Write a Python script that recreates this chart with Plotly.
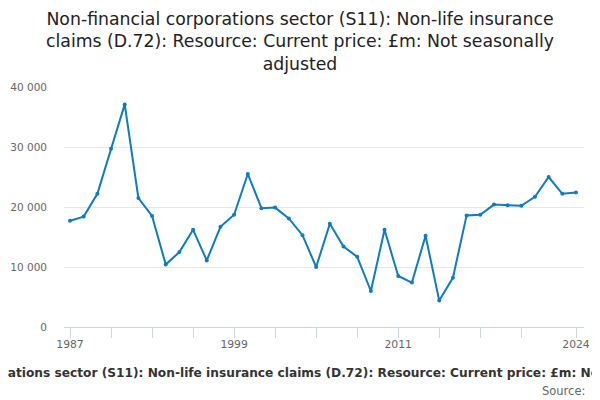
import plotly.graph_objects as go

years = list(range(1987, 2025))
values = [17700, 18400, 22200, 29700, 37100, 21500, 18500, 10400, 12500, 16200,
          11100, 16700, 18700, 25500, 19800, 19900, 18100, 15300, 10000, 17200,
          13400, 11700, 6000, 16200, 8500, 7400, 15200, 4400, 8200, 18600,
          18700, 20400, 20300, 20200, 21700, 25000, 22200, 22400]

tick_years = [1987, 1990, 1993, 1996, 1999, 2002, 2005, 2008, 2011, 2014, 2017, 2020, 2024]
labeled = {1987, 1999, 2011, 2024}
tick_text = [str(y) if y in labeled else "" for y in tick_years]
y_ticks = [0, 10000, 20000, 30000, 40000]
y_text = ["0", "10 000", "20 000", "30 000", "40 000"]

title = ("Non-financial corporations sector (S11): Non-life insurance<br>"
         "claims (D.72): Resource: Current price: £m: Not seasonally<br>adjusted")
axis_title = ("Non-financial corporations sector (S11): Non-life insurance claims (D.72): "
              "Resource: Current price: £m: Not seasonally adjusted")

# page offset compensation (body margin of the viewing page)
OFF = 8
W, H = 600, 400
L = 64 - OFF
T = 86.7 - OFF
R = W - (584 - OFF)
B = H - (327.3 - OFF)
pw = W - L - R
ph = H - T - B

def px_x(x):
    return (x - OFF - L) / pw

def px_y(y):
    return (H - B - (y - OFF)) / ph

fig = go.Figure(go.Scatter(
    x=years, y=values, mode="lines+markers",
    line=dict(color="#0f7bc1", width=2),
    marker=dict(color="#0f7bc1", size=4),
    hoverinfo="x+y",
))

fig.update_layout(
    width=W, height=H,
    margin=dict(l=L, r=R, t=T, b=B, autoexpand=False),
    paper_bgcolor="white", plot_bgcolor="white",
    font=dict(family="DejaVu Sans", color="#666666"),
    showlegend=False,
    xaxis=dict(
        range=[1986.561, 2024.585], automargin=False,
        tickmode="array", tickvals=tick_years, ticktext=tick_text,
        ticks="outside", ticklen=10, tickcolor="#ccd6eb",
        showline=True, linecolor="#ccd6eb", showgrid=False, zeroline=False,
        tickfont=dict(size=10.8, color="#666666"), ticklabelstandoff=-3,
    ),
    yaxis=dict(
        range=[0, 40000], automargin=False,
        tickmode="array", tickvals=y_ticks, ticktext=y_text,
        showgrid=True, gridcolor="#e6e6e6", zeroline=False, showline=False,
        tickfont=dict(size=10.5, color="#666666"), ticks="", ticklabelstandoff=16,
    ),
    annotations=[
        dict(text=title, xref="paper", yref="paper", x=px_x(300), y=px_y(6),
             xanchor="center", yanchor="top", showarrow=False, align="center",
             font=dict(size=17.3, color="#222222")),
        dict(text="<b>" + axis_title + "</b>", xref="paper", yref="paper",
             x=px_x(307), y=px_y(373), xanchor="center", yanchor="middle",
             showarrow=False, font=dict(size=12.2, color="#333333")),
        dict(text="Source: ", xref="paper", yref="paper", x=px_x(591), y=px_y(391),
             xanchor="right", yanchor="middle", showarrow=False,
             font=dict(size=11.5, color="#666666")),
    ],
)

fig.write_html("out.html")
